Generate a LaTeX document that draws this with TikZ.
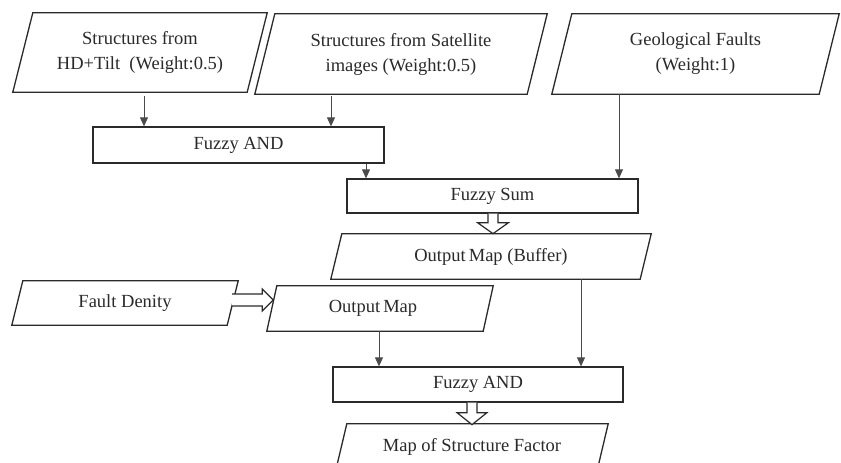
\documentclass[tikz,border=0pt]{standalone}
\usepackage{fontspec}
\setmainfont{Liberation Serif}
\usetikzlibrary{arrows.meta}
\definecolor{ink}{HTML}{2A2A2A}
\tikzset{
  boxnode/.style={inner sep=0pt, minimum width=#1, align=center, text=ink,
    font=\fontsize{18.5}{25}\selectfont},
  rectbox/.style={draw=ink, line width=1.3pt},
  paraline/.style={draw=ink, line width=1.3pt, line join=miter},
  arr/.style={draw=ink!85, line width=0.8pt, -{Triangle[width=8pt,length=9pt]}},
  hollow/.style={draw=ink, line width=1.2pt, fill=white, line join=miter},
}
\newcommand\paral[2]{\draw[paraline] ([xshift=#2]#1.north west) -- (#1.north east) -- ([xshift=-#2]#1.south east) -- (#1.south west) -- cycle;}
\begin{document}
\begin{tikzpicture}[x=1pt,y=-1pt]
\useasboundingbox (0,0) rectangle (841,463);
\fill[white] (0,0) rectangle (841,463);

% parallelogram inputs
\node[boxnode=254pt, minimum height=79pt] (b1) at (140,52.5) {Structures from\\HD+Tilt\ \ (Weight:0.5)};
\paral{b1}{20pt}
\node[boxnode=292pt, minimum height=80pt] (b2) at (401,54) {Structures from Satellite\\images (Weight:0.5)};
\paral{b2}{20pt}
\node[boxnode=287pt, minimum height=80pt] (b3) at (695.5,54) {Geological Faults\\(Weight:1)};
\paral{b3}{20pt}

% rectangles
\node[boxnode=291pt, minimum height=36pt, rectbox] (and1) at (238.5,145) {Fuzzy AND};
\node[boxnode=291pt, minimum height=34pt, rectbox] (sum) at (492.5,196) {Fuzzy Sum};

\node[boxnode=320pt, minimum height=45pt] (omb) at (491,256.5) {Output\,Map (Buffer)};
\paral{omb}{11pt}
\node[boxnode=226pt, minimum height=44pt] (fd) at (125,303) {Fault Denity};
\paral{fd}{11pt}
\node[boxnode=226pt, minimum height=45pt] (om) at (380,308.5) {\hspace*{-14pt}Output\,Map};
\paral{om}{10pt}

\node[boxnode=290pt, minimum height=35pt, rectbox] (and2) at (478,384.5) {Fuzzy AND};
\node[boxnode=272pt, minimum height=46pt] (msf) at (472,447) {Map of Structure Factor};
\paral{msf}{11pt}

% thin arrows
\draw[arr, shorten <=4pt] ([xshift=4pt]b1.south) -- ([xshift=4pt]b1.south |- and1.north);
\draw[arr, shorten <=2pt] ([xshift=-70pt]b2.south) -- ([xshift=-70pt]b2.south |- and1.north);
\draw[arr] ([xshift=127.5pt]and1.south) -- ([xshift=127.5pt]and1.south |- sum.north);
\draw[arr] ([xshift=-76.5pt]b3.south) -- ([xshift=-76.5pt]b3.south |- sum.north);
\draw[arr] ([xshift=-1pt]om.south) -- ([xshift=-1pt]om.south |- and2.north);
\draw[arr] ([xshift=90pt]omb.south) -- ([xshift=90pt]omb.south |- and2.north);

% hollow block arrows
\coordinate (s1) at ([xshift=0.5pt]sum.south);
\draw[hollow] (s1) ++(-5,0) -- ++(0,9) -- ++(-10.5,0) -- ++(15.5,11) -- ++(15.5,-11) -- ++(-10.5,0) -- ++(0,-9);
\coordinate (s2) at ([xshift=-6pt]and2.south);
\draw[hollow] (s2) ++(-5,0) -- ++(0,10) -- ++(-10,0) -- ++(15,12) -- ++(15,-12) -- ++(-10,0) -- ++(0,-10);
\coordinate (s3) at ([xshift=-6pt,yshift=3pt]fd.east);
\draw[hollow] (s3) ++(0,-6) -- ++(30,0) -- ++(0,-5) -- ++(11,11) -- ++(-11,11) -- ++(0,-5) -- ++(-30,0);
\end{tikzpicture}
\end{document}
